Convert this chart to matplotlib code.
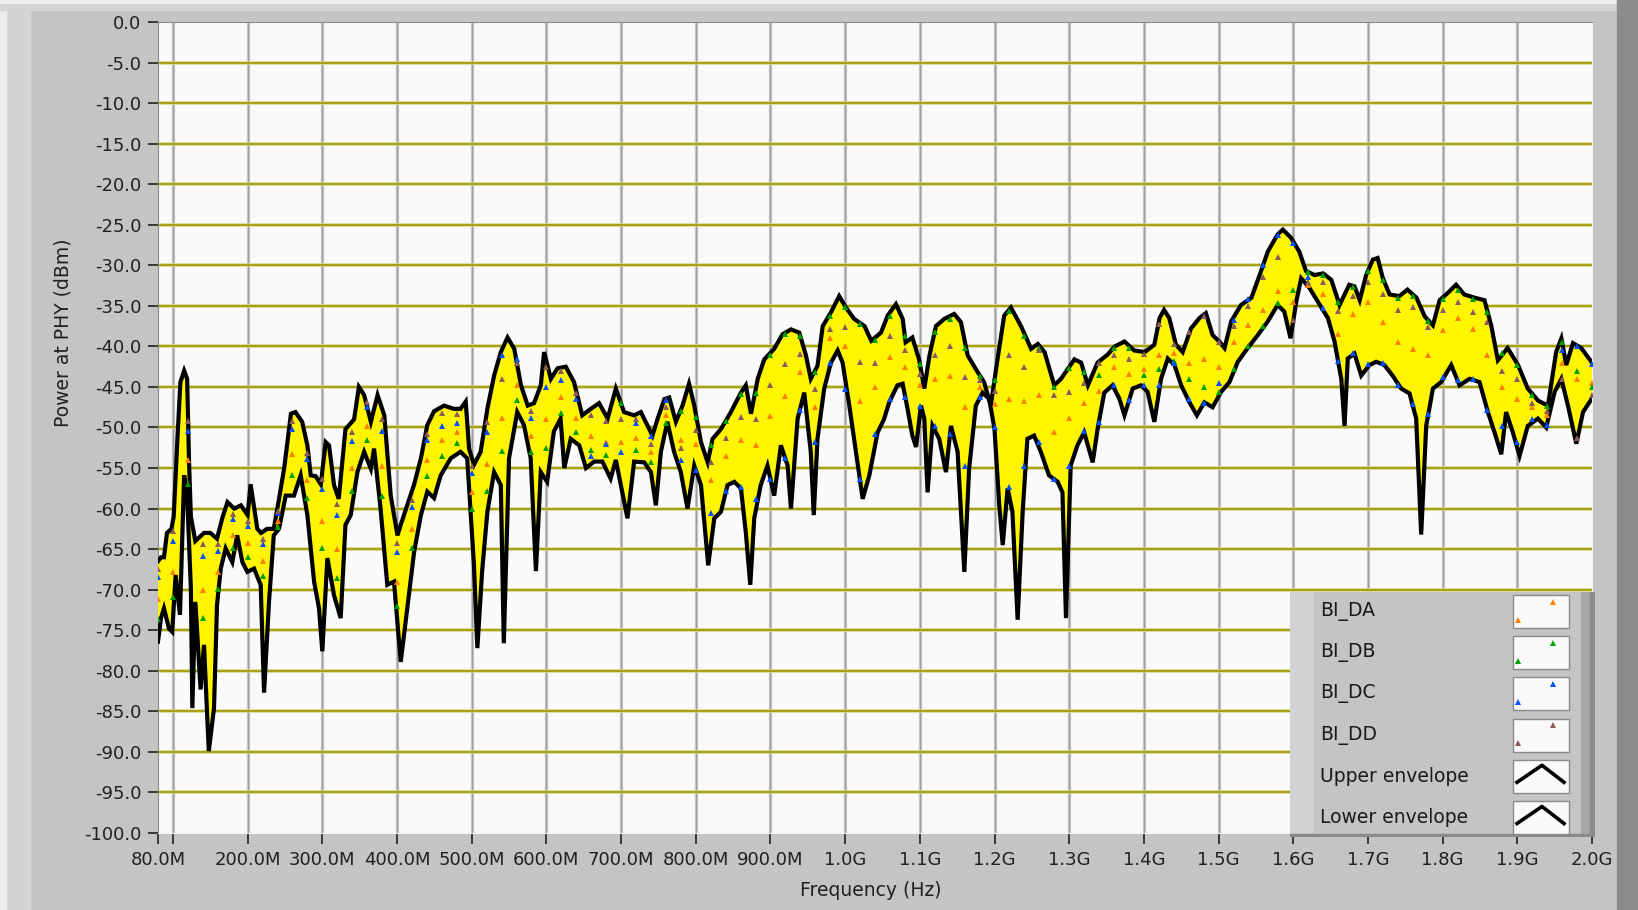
import matplotlib
matplotlib.use("Agg")
import matplotlib.pyplot as plt
import matplotlib.patheffects as pe
from matplotlib.patches import Rectangle
import numpy as np

plt.rcParams['font.family'] = ['DejaVu Sans']

# upper envelope, frequency in MHz / power in dBm
upper_f = [80, 84, 88, 92, 98, 101, 106, 110, 115, 119, 121.5, 124, 130, 141.6, 150, 159, 166, 173, 182, 191,
           200, 204, 213, 218, 226, 235, 242, 249, 258, 264, 273, 280, 284.5, 291, 298, 304.5, 309, 315.7, 322, 331,
           342.5, 349, 356, 365, 374, 383, 391.6, 400.6, 405, 414, 423, 432, 440.6, 449.6, 463, 476, 485, 492, 496.5, 503,
           512, 521, 530, 539, 548, 557, 566, 575, 583.5, 592.5, 597, 606, 615, 626, 637, 648, 659.5, 670.6, 682, 693,
           704, 717.5, 726.5, 735.5, 742, 749, 758, 764.5, 773.4, 782.3, 791, 798, 807, 816, 822.5, 833.7, 847, 860.5, 867, 874,
           883, 891.7, 905, 916.3, 927.5, 938.6, 947.5, 954, 963, 970, 981, 992, 1001, 1012, 1026, 1035, 1048, 1057, 1068, 1077,
           1081, 1090, 1099, 1106, 1113, 1121.6, 1132.8, 1146, 1155, 1164, 1175, 1186, 1195, 1204, 1213, 1222, 1235.5, 1249, 1258, 1267,
           1280, 1289, 1307, 1316, 1325, 1338, 1351.6, 1361, 1374, 1387, 1401, 1414, 1421, 1427, 1434, 1443, 1452, 1463, 1474.5, 1483,
           1492, 1501, 1508, 1517, 1530, 1544, 1555, 1566, 1579, 1586, 1597, 1608, 1617, 1628.5, 1640, 1651, 1662, 1675, 1682, 1689,
           1697.6, 1706.6, 1713, 1720, 1729, 1742, 1753, 1765, 1776, 1787, 1796, 1807, 1818, 1829, 1843, 1856, 1865, 1874, 1887, 1901,
           1914, 1928, 1941, 1952, 1959, 1965.5, 1974.5, 1985.6, 2000]
upper_v = [-66.5, -66, -66, -63, -62.5, -61, -51.4, -44.4, -43, -44, -54, -61, -64, -63, -63, -63.7, -61.2, -59.2, -60, -59.6,
           -60.8, -57, -62.5, -63, -62.5, -62.5, -58.8, -55, -48.3, -48.1, -49.3, -52.2, -55.9, -56, -57, -51.8, -52.2, -57.1, -58.8, -50.2,
           -49, -45, -46, -49.3, -46, -48.5, -58.4, -63.3, -62, -59.5, -57, -53.8, -49.7, -48, -47.3, -47.7, -47.7, -46.8, -52.6, -54.6,
           -53, -47.7, -43.6, -40.7, -38.9, -40.3, -44.8, -47.3, -47, -44.8, -40.7, -44, -42.7, -42.5, -44.4, -48.5, -47.7, -47, -48.9, -45.2,
           -48.1, -48.5, -48.1, -49.8, -51, -48.9, -46.5, -46.3, -49.3, -47.3, -44.6, -47.3, -51.8, -54.3, -51.4, -50.2, -48.1, -45.7, -44.8, -48.3,
           -44, -41.6, -40.3, -38.5, -37.9, -38.3, -41.1, -44, -42.4, -37.5, -35.8, -33.8, -35.2, -36.6, -37.5, -39.3, -38.3, -36.2, -34.8, -36.6,
           -39.5, -38.9, -41.6, -45.2, -41.1, -37.5, -36.6, -36, -37, -41.1, -42.8, -44.4, -47.3, -41.6, -36.2, -35.2, -37.5, -40.3, -39.7, -40.7,
           -44.8, -44, -41.6, -42, -44.8, -42, -41, -40, -39.4, -40.5, -40.7, -39.8, -36.5, -35.5, -36.5, -39.8, -40.7, -37.8, -36.5, -35.9,
           -38.6, -39.4, -40.2, -36.9, -34.9, -34, -31.2, -28.3, -26.2, -25.6, -26.6, -28.3, -30.7, -31.2, -31, -31.8, -34.9, -32.4, -32.6, -34.3,
           -31.2, -29.3, -29.1, -31.6, -33.6, -33.8, -33, -34, -36.3, -37.4, -34.3, -33.4, -32.4, -33.6, -34, -34.3, -37.4, -41.7, -40.2, -42.3,
           -45.2, -46.7, -47.3, -40.7, -39, -42.3, -39.6, -40.2, -42]

# lower envelope
lower_f = [80, 84, 88, 94.7, 99, 103.6, 109.4, 115, 119, 124, 126, 130, 137, 141.6, 148, 155, 159, 164, 170.6, 179.5,
           186, 193, 199.6, 208.6, 217.5, 222, 228.6, 235, 242, 251, 262, 271, 280, 289, 295.6, 300, 306.8, 315.7, 324.6, 331,
           338, 347, 356, 365, 369.3, 378, 387, 396, 405, 416, 423, 432, 440.6, 449.6, 458.5, 472, 485, 494, 503, 507.6,
           514, 521, 530, 539, 543, 550, 561, 570, 579, 586, 592.5, 601, 610, 619, 624, 632.6, 644, 653, 664, 675,
           686, 693, 708.6, 717.5, 731, 740, 746.6, 753.3, 762, 771, 780, 789, 798, 807, 816.7, 824.8, 833.7, 842.6, 851.6, 860.5,
           867, 873, 878.3, 887, 896, 905, 914, 923, 927.5, 936.4, 945.3, 954, 958, 963, 972, 981, 990, 996.6, 1005.6, 1014.5,
           1023.5, 1032.4, 1043.5, 1052, 1059, 1070, 1077, 1083.6, 1090, 1095, 1101.5, 1106, 1110.4, 1117, 1126, 1135, 1141.7, 1150.6, 1159.6, 1166,
           1175, 1184, 1193, 1200, 1206.4, 1211, 1217.6, 1224, 1231, 1237.7, 1244, 1253, 1262, 1273, 1284.6, 1291, 1295.7, 1302, 1311, 1320,
           1331.5, 1338, 1347, 1358, 1367, 1374, 1385, 1396, 1405, 1414, 1423, 1432, 1441, 1450, 1461, 1471, 1481, 1492, 1503.5, 1514.6,
           1525.8, 1539, 1552.6, 1566, 1579, 1588, 1596.4, 1604, 1610.6, 1621.8, 1633, 1646.4, 1655.3, 1664.3, 1668.7, 1673, 1682, 1691, 1702, 1711,
           1722, 1733, 1744.5, 1755.7, 1764.6, 1771.3, 1778, 1787, 1798, 1811.5, 1822.6, 1836, 1849.4, 1860.6, 1869.5, 1878.5, 1885, 1894, 1903, 1914,
           1927.6, 1938.7, 1950, 1959, 1967.8, 1979, 1988, 2000]
lower_v = [-76.4, -73.5, -72.3, -74.8, -75.2, -68.2, -73.1, -55.9, -58.4, -69.8, -84.6, -71.5, -82.3, -76.8, -89.9, -84.6, -71.9, -67.4, -64.9, -66.6,
           -63.3, -66.6, -67.8, -67.4, -69.4, -82.7, -71.5, -63.3, -62.5, -58.4, -58.4, -55.9, -60.8, -69, -72.3, -77.6, -66.1, -70.7, -73.5, -62,
           -60.8, -55.5, -53, -55.1, -52.6, -60, -69.4, -69, -78.9, -70.6, -65.3, -60.8, -57.9, -58.7, -55.9, -53.8, -53, -53.8, -66.9, -77.2,
           -67.7, -60.4, -55.5, -57.1, -76.6, -53.8, -48.1, -49.7, -53.8, -67.7, -55.5, -56.7, -50.5, -48.9, -55, -51.4, -52.2, -55, -54.2, -54.2,
           -56.3, -54, -61.2, -54.2, -54.3, -55.5, -59.6, -53, -49.3, -53, -55.5, -60, -54.7, -57.1, -67, -61.2, -60.4, -57.1, -56.7, -57.5,
           -62.9, -69.4, -61.2, -57.1, -54.7, -58.4, -52.2, -54.7, -60, -48.9, -45.7, -53, -60.8, -51.4, -45.2, -42, -40.5, -42, -47.3, -53,
           -58.8, -55.9, -50.6, -49, -46.9, -44.8, -44.6, -47.7, -51, -52.4, -47.3, -48.9, -58, -49.8, -51.4, -55.5, -49.8, -53, -67.8, -55.1,
           -47.3, -45.7, -46.5, -50.2, -59.6, -64.5, -57.5, -60.4, -73.7, -60.4, -51.4, -51, -53, -55.9, -56.7, -58, -73.5, -54.7, -52.2, -50.6,
           -54.3, -50.2, -45.7, -44.8, -46.4, -48.5, -45.2, -44.8, -45.6, -49.3, -44, -41.5, -42.3, -44.8, -46.9, -48.5, -46.9, -47.5, -45.6, -44.4,
           -41.9, -40.2, -38.6, -36.9, -34.9, -35.7, -39, -34.5, -31.6, -32.8, -34.5, -36.5, -39.4, -44, -49.8, -41.5, -40.9, -43.6, -42.3, -41.9,
           -42.3, -43.6, -45.2, -45.8, -48.9, -63.2, -49.8, -45.2, -44.4, -42.3, -44.8, -44, -44.4, -48.1, -50.6, -53.3, -48.1, -50.6, -53.5, -49.8,
           -48.9, -50, -45.6, -44, -47.3, -52, -48.1, -46.4]

# per-channel samples, every 20 MHz from 80 MHz to 2 GHz
series_f = list(range(80, 2001, 20))
bi_da = [-71.2, -67.8, -54, -70, -67.8, -63.3, -64.3, -66.5, -61.5, -53.3,
         -56.5, -61.5, -65, -55, -49.8, -54.8, -69, -62.5, -54, -51.5,
         -50.5, -58, -54.5, -48.8, -44.7, -51.1, -49, -46.3, -48.8, -51.1,
         -51.8, -51.8, -51.3, -53, -48.5, -51.5, -52, -56.5, -53.5, -51.6,
         -52.2, -48.6, -46.1, -43.2, -47.5, -39, -40, -46.7, -45, -41.3,
         -42.5, -44.7, -44, -43.7, -47.5, -45, -47.1, -46.5, -46.7, -46,
         -50.6, -48.8, -47, -45.5, -42.5, -43.4, -42.8, -41, -40.8, -42,
         -41.5, -42.5, -39.5, -37.4, -35.5, -33.2, -34.5, -32.4, -33.5, -38.5,
         -36, -34.5, -37, -39.5, -40.3, -41, -38, -36.5, -37.8, -41,
         -45, -46.5, -47.5, -48.5, -42, -44, -44.5]
bi_db = [-73.6, -70.9, -57, -73.5, -69.9, -64.9, -66, -68.3, -62.3, -55.9,
         -58.7, -64.8, -68.5, -57.8, -51.6, -58.4, -72, -64.8, -56, -53.5,
         -51.9, -60, -57.8, -52.9, -46.6, -53, -52.5, -48.2, -50.6, -52.8,
         -53.4, -47, -52.8, -54.2, -49.5, -48, -48.7, -52.2, -49.2, -45.9,
         -45.7, -41, -38.5, -38.7, -43.2, -36.2, -35.2, -37.2, -39.2, -36.2,
         -38.7, -42.2, -38.2, -36.6, -40.2, -43.7, -44.2, -35.6, -38.7, -40.2,
         -45, -42.7, -43.2, -43.5, -40.2, -40.2, -43.5, -42.8, -41.8, -44,
         -45, -45.6, -42.8, -40, -37.5, -34.7, -33, -30.8, -31.2, -34.5,
         -32.7, -30.7, -31.8, -34, -33.8, -36.9, -34.2, -33, -34.2, -35.7,
         -40.8, -42.3, -46, -47.4, -39.5, -43, -45]
bi_dc = [-68.4, -64, -50.4, -65.8, -65.2, -61.3, -62.2, -64.4, -60.6, -50.2,
         -53.9, -57.6, -60.8, -51.7, -47.5, -50.4, -65.4, -59.8, -51.6, -49.8,
         -49.4, -55.6, -50.6, -41, -41.5, -48.8, -45, -44.1, -46.5, -53.5,
         -52, -53, -49.5, -51, -46.6, -54, -55.3, -60.5, -57.8, -57.3,
         -58.8, -56.3, -53.8, -47.8, -51.8, -42.1, -45.3, -56.3, -50.8, -46.5,
         -46.3, -47.3, -49.8, -50.8, -54.8, -46.3, -50, -57.3, -54.8, -51.8,
         -56.3, -54.8, -50.4, -49.3, -44.8, -46.6, -44.8, -44.8, -42, -46.5,
         -47, -44.5, -36.7, -34.2, -30, -26.3, -27.2, -31.5, -35.3, -41.8,
         -40.8, -42.2, -42.1, -44.7, -47.1, -48.3, -43.8, -44.1, -44, -47.8,
         -49.8, -51.8, -49, -49.7, -40.5, -40, -42.2]
bi_dd = [-67.4, -62.8, -49.2, -64.4, -64.4, -60.7, -61.5, -63.7, -60.3, -49.2,
         -53.1, -56.3, -59.4, -50.6, -46.8, -49, -64.2, -58.9, -50.8, -48.2,
         -48.3, -54.8, -49.3, -44, -42, -48, -42.5, -43, -45.8, -48.4,
         -49.2, -49, -49, -52, -47.5, -52.5, -50.3, -54.3, -51.3, -48.7,
         -48.9, -44.7, -42.2, -40.9, -45.3, -37.8, -37.6, -41.9, -42, -38.7,
         -40.5, -43.4, -41, -40, -43.8, -44.2, -45.5, -41, -42.6, -40.5,
         -46, -45.6, -44.5, -42, -41, -41.5, -40.9, -37.2, -39.7, -38.2,
         -36.2, -39.5, -37.5, -35, -31.5, -29, -36.8, -32, -32, -35.6,
         -33.8, -32, -33.5, -35.5, -35.2, -37.6, -35.5, -34.5, -35.7, -37,
         -43, -44, -47, -48, -44, -51.3, -46]

series_names = ['BI_DA', 'BI_DB', 'BI_DC', 'BI_DD']
series_vals = [bi_da, bi_db, bi_dc, bi_dd]
series_cols = ['#FF7F00', '#00A000', '#0050FF', '#8B5A5A']
env_names = ['Upper envelope', 'Lower envelope']

x_ticks = [80] + list(range(100, 2001, 100))
x_labels = ['80.0M', ''] + ['%d00.0M' % i for i in range(2, 10)] + ['%.1fG' % (i / 10) for i in range(10, 21)]
y_ticks = list(range(0, -101, -5))

W, H = 1638, 910
fig = plt.figure(figsize=(W / 100, H / 100), dpi=100, facecolor='#C4C4C4')

# panel border
fig.patches.append(Rectangle((0, 0), 30 / W, 1, transform=fig.transFigure, color='#D4D4D4', zorder=0))
fig.patches.append(Rectangle((0, 0), 6 / W, 1, transform=fig.transFigure, color='#ECECEC', zorder=0))
fig.patches.append(Rectangle((0, 1 - 10 / H), 1, 10 / H, transform=fig.transFigure, color='#D4D4D4', zorder=0))
fig.patches.append(Rectangle((0, 1 - 3 / H), 1, 3 / H, transform=fig.transFigure, color='#ECECEC', zorder=0))
fig.patches.append(Rectangle((1617 / W, 0), 21 / W, 1, transform=fig.transFigure, color='#8C8C8C', zorder=0))

ax = fig.add_axes([158 / W, 1 - 833 / H, (1592 - 158) / W, (833 - 22) / H])
ax.set_facecolor('#FAFAFA')
ax.set_xlim(80, 2000)
ax.set_ylim(-100, 0)

for xv in x_ticks[1:-1]:
    ax.axvline(xv, color='#9C9C9C', lw=1.0, zorder=1,
               path_effects=[pe.Stroke(linewidth=2.4, foreground='#CFCFCF'), pe.Normal()])
for yv in y_ticks[1:-1]:
    ax.axhline(yv, color='#9E9900', lw=1.2, zorder=2,
               path_effects=[pe.Stroke(linewidth=2.6, foreground='#D8D48E'), pe.Normal()])

ax.fill(np.concatenate([upper_f, lower_f[::-1]]), np.concatenate([upper_v, lower_v[::-1]]),
        color='#FFF500', lw=0, zorder=3)
ax.plot(upper_f, upper_v, color='black', lw=3.0, zorder=4, solid_joinstyle='miter')
ax.plot(lower_f, lower_v, color='black', lw=3.0, zorder=4, solid_joinstyle='miter')
for vals, col in zip(series_vals, series_cols):
    ax.plot(series_f, vals, ls='none', marker='^', ms=3.8, mew=0, color=col, zorder=5)

ax.set_xticks(x_ticks)
ax.set_xticklabels(x_labels)
ax.set_yticks(y_ticks)
ax.set_yticklabels(['%.1f' % v for v in y_ticks])
ax.tick_params(axis='both', colors='#202020', labelsize=13, width=1.2)
ax.tick_params(axis='x', length=8, pad=5)
ax.tick_params(axis='y', length=7, pad=5)
for side in ['left', 'top']:
    ax.spines[side].set_color('#8A8A8A')
for side in ['right', 'bottom']:
    ax.spines[side].set_color('#F4F4F4')

fig.text(63 / W, 1 - 333 / H, 'Power at PHY (dBm)', rotation=90, ha='center', va='center',
         fontsize=13.5, color='#202020')
fig.text(871 / W, 1 - 891 / H, 'Frequency (Hz)', ha='center', va='center', fontsize=13.5, color='#202020')

# legend panel (pixel coordinates inside the panel)
lx0, ly0, lw_, lh_ = 1290, 592, 305, 245
lg = fig.add_axes([lx0 / W, 1 - (ly0 + lh_) / H, lw_ / W, lh_ / H], zorder=10)
lg.set_xlim(0, lw_)
lg.set_ylim(lh_, 0)
lg.axis('off')
lg.add_patch(Rectangle((0, 0), lw_, lh_, color='#C4C4C4'))
lg.add_patch(Rectangle((0, 0), 22, lh_, color='#D2D2D2'))
lg.add_patch(Rectangle((lw_ - 14, 0), 14, lh_, color='#A6A6A6'))
lg.add_patch(Rectangle((lw_ - 5, 0), 5, lh_, color='#8A8A8A'))
lg.add_patch(Rectangle((0, lh_ - 3), lw_, 3, color='#8A8A8A'))
names = series_names + env_names
for i, name in enumerate(names):
    cy = 19.5 + 41.2 * i
    lg.text(30, cy, name, ha='left', va='center', fontsize=13.5, color='#1A1A1A')
    lg.add_patch(Rectangle((223, cy - 16.5), 56, 33, facecolor='#FAFAFA', edgecolor='#8A8A8A', lw=1))
    if i < 4:
        lg.plot([228, 263], [cy + 8, cy - 10], ls='none', marker='^', ms=3.8, mew=0, color=series_cols[i])
    else:
        lg.plot([227, 252, 274], [cy + 6, cy - 11, cy + 6], color='black', lw=2.6)

fig.savefig('out.png', dpi=100, facecolor=fig.get_facecolor())
